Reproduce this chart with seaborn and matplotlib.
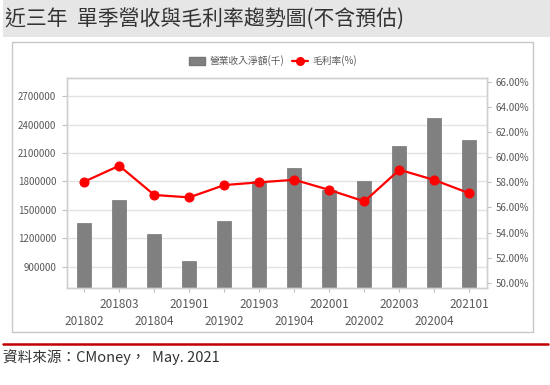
import matplotlib
matplotlib.use('Agg')
import matplotlib.pyplot as plt
import seaborn as sns
import numpy as np
import pandas as pd
from matplotlib.patches import Rectangle, Patch
from matplotlib.lines import Line2D
from matplotlib.ticker import FuncFormatter, FixedLocator, FixedFormatter

# ---- data ----
periods = ['201802', '201803', '201804', '201901', '201902', '201903',
           '201904', '202001', '202002', '202003', '202004', '202101']
revenue = [1365000, 1605000, 1250000, 960000, 1380000, 1800000,
           1945000, 1710000, 1805000, 2180000, 2475000, 2240000]
margin = [58.05, 59.32, 56.99, 56.80, 57.78, 58.00,
          58.20, 57.39, 56.48, 59.00, 58.18, 57.12]
left_ticks = [900000, 1200000, 1500000, 1800000, 2100000, 2400000, 2700000]
right_ticks = [50, 52, 54, 56, 58, 60, 62, 64, 66]
title = '近三年  單季營收與毛利率趨勢圖(不含預估)'
source = '資料來源：CMoney，  May. 2021'
legend_labels = ['營業收入淨額(千)', '毛利率(%)']

sns.set_theme(style='white')
plt.rcParams['font.family'] = ['Noto Sans CJK TC', 'DejaVu Sans']

W, H = 550, 385
fig = plt.figure(figsize=(5.5, 3.85), dpi=100)
fig.patch.set_facecolor('white')


def fx(px):
    return px / W


def fy(py):
    return 1 - py / H


# title band
fig.patches.append(Rectangle((fx(3), fy(37)), fx(547), 37 / H, transform=fig.transFigure,
                             facecolor='#e6e6e6', edgecolor='none', zorder=0))
fig.text(fx(5), fy(19), title, fontsize=15, color='#333333', va='center', ha='left')
# chart box
fig.patches.append(Rectangle((fx(12), fy(332)), fx(521), (332 - 42) / H, transform=fig.transFigure,
                             fill=False, edgecolor='#c8c8c8', lw=1, zorder=0))
# red rule
fig.lines.append(Line2D([fx(3), fx(548)], [fy(344), fy(344)], transform=fig.transFigure,
                        color='#c00000', lw=1.8))
fig.text(fx(3), fy(357), source, fontsize=10.5, color='#333333', va='center', ha='left')

# main axes
ax = fig.add_axes([fx(66.7), fy(288), (487 - 66.7) / W, (288 - 78) / H])
df = pd.DataFrame({'period': periods, 'revenue': revenue})
sns.barplot(data=df, x='period', y='revenue', ax=ax, color='#808080', width=0.4,
            saturation=1, edgecolor='#777777', linewidth=0.5)
ax.set_xlim(-0.5, 11.5)
ax.set_ylim(675000, 2893000)
ax.set_yticks(left_ticks)
ax.set_yticklabels([str(v) for v in left_ticks])
ax.yaxis.grid(True, color='#e3e3e3', lw=1)
ax.set_axisbelow(True)
ax.set_xlabel('')
ax.set_ylabel('')

# two rows of category labels: even positions on the lower row (major), odd on upper (minor)
even_pos = [i for i in range(len(periods)) if i % 2 == 0]
odd_pos = [i for i in range(len(periods)) if i % 2 == 1]
ax.xaxis.set_major_locator(FixedLocator(even_pos))
ax.xaxis.set_major_formatter(FixedFormatter([periods[i] for i in even_pos]))
ax.xaxis.set_minor_locator(FixedLocator(odd_pos))
ax.xaxis.set_minor_formatter(FixedFormatter([periods[i] for i in odd_pos]))

ax2 = ax.twinx()
sns.lineplot(x=np.arange(len(periods)), y=margin, ax=ax2, color='#ff0000', lw=1.6,
             marker='o', markersize=6.5, markeredgecolor='#ff0000')
ax2.set_ylim(49.58, 66.31)
ax2.set_yticks(right_ticks)
ax2.yaxis.set_major_formatter(FuncFormatter(lambda v, p: f'{v:.2f}%'))
ax2.set_ylabel('')
ax2.set_xlim(-0.5, 11.5)

for a in (ax, ax2):
    for s in a.spines.values():
        s.set_color('#d0d0d0')
        s.set_linewidth(1)

ax.tick_params(axis='y', which='both', left=True, length=3.6, width=0.8, color='#c0c0c0',
               labelsize=7, labelcolor='#595959', pad=4)
ax.tick_params(axis='x', which='minor', bottom=True, length=3, width=0.8, color='#c0c0c0',
               labelsize=8.5, labelcolor='#595959', pad=4)
ax.tick_params(axis='x', which='major', bottom=True, length=3, width=0.8, color='#c0c0c0',
               labelsize=8.5, labelcolor='#595959', pad=16.5)
ax2.tick_params(axis='y', right=True, length=3, width=0.8, color='#c0c0c0',
                labelsize=7, labelcolor='#595959', pad=3)

handles = [Patch(facecolor='#808080', edgecolor='#777777'),
           Line2D([0], [0], color='#ff0000', lw=1.6, marker='o', markersize=5.5)]
fig.legend(handles, legend_labels, loc='center', bbox_to_anchor=(fx(273), fy(61)),
           ncol=2, frameon=False, fontsize=7, handlelength=1.6, handleheight=1.0,
           columnspacing=0.8, handletextpad=0.5, labelcolor='#595959')

fig.savefig('out.png', dpi=100)
